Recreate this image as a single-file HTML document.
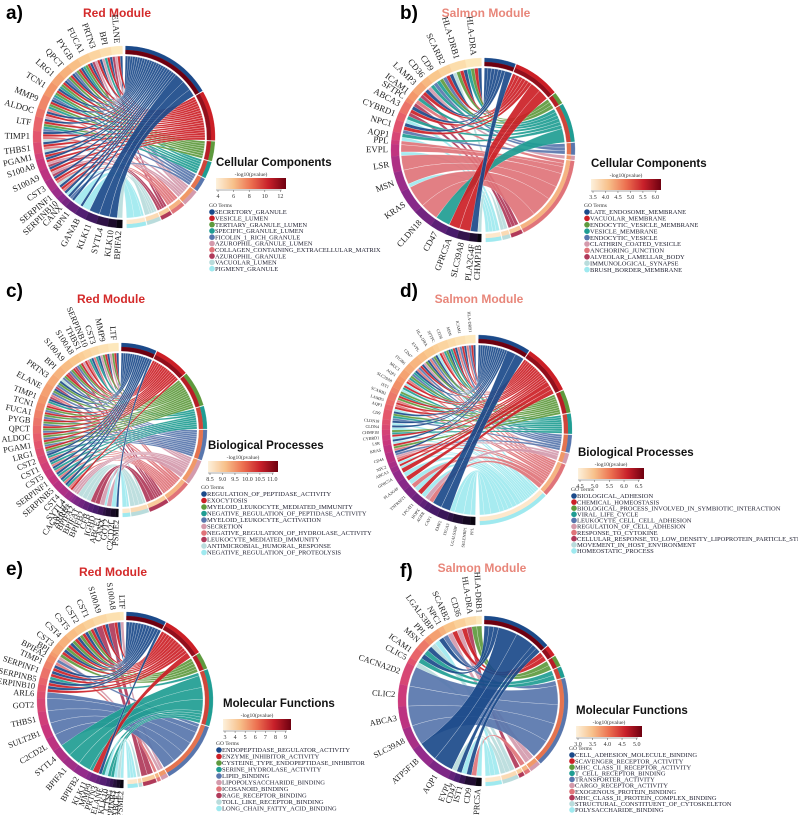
<!DOCTYPE html>
<html><head><meta charset="utf-8"><style>
html,body{margin:0;padding:0;background:#fff;}
svg{display:block;}
</style></head><body>
<svg id="fig" width="798" height="815" viewBox="0 0 798 815" xmlns="http://www.w3.org/2000/svg">
<g font-family="Liberation Sans, sans-serif" font-weight="bold">
<text x="6" y="19" font-size="19">a)</text>
<text x="400" y="19" font-size="19">b)</text>
<text x="6" y="297" font-size="19">c)</text>
<text x="400" y="297" font-size="19">d)</text>
<text x="6" y="575" font-size="19">e)</text>
<text x="400" y="577" font-size="19">f)</text>
<text x="117" y="17" font-size="12" fill="#d42a2a" text-anchor="middle">Red Module</text>
<text x="486" y="17" font-size="12" fill="#e8867a" text-anchor="middle">Salmon Module</text>
<text x="111" y="303" font-size="12" fill="#d42a2a" text-anchor="middle">Red Module</text>
<text x="479" y="303" font-size="12" fill="#e8867a" text-anchor="middle">Salmon Module</text>
<text x="113" y="576" font-size="12" fill="#d42a2a" text-anchor="middle">Red Module</text>
<text x="482" y="572" font-size="12" fill="#e8867a" text-anchor="middle">Salmon Module</text>
</g>
</svg>
<script>
const TERM_COLORS=["#1b4a8a","#cc1f26","#5e9a3e","#1f9d93","#5876ad","#d49aac","#e0747a","#b03a5a","#b9dcdc","#9fe9ef"];

const genesA=["ELANE","BPI","PRTN3","FUCA1","PYGB","QPCT","LRG1","TCN1","MMP9","ALDOC","LTF","TIMP1","THBS1","PGAM1","S100A8","S100A9","CST3","SERPINF1","SERPINB10","CANX","RPN1","GANAB","KLK11","SYTL4","KLK10","BPIFA2"];
const linksA=["0157","0135","0157","0123","0124","0124","0123","01234","01236","015","01234","0168","0168","01","0157","0157","0168","016","09","04","0999","0999","0000","0000","000","88"];
const termsA=["SECRETORY_GRANULE","VESICLE_LUMEN","TERTIARY_GRANULE_LUMEN","SPECIFIC_GRANULE_LUMEN","FICOLIN_1_RICH_GRANULE","AZUROPHIL_GRANULE_LUMEN","COLLAGEN_CONTAINING_EXTRACELLULAR_MATRIX","AZUROPHIL_GRANULE","VACUOLAR_LUMEN","PIGMENT_GRANULE"];
const ticksA=["4","6","8","10","12"];

const genesB=["HLA-DRA","HLA-DRB1","SCARB2","CD9","CD36","LAMP3","ICAM1","SFTPC","ABCA3","CYBRD1","NPC1","AQP1","PPL","EVPL","LSR","MSN","KRAS","CLDN18","CD47","GPRC5A","SLC39A8","PLA2G4F","CHMP1B"];
const linksB=["0123","0128","014","234","35","017","36","7","017","39","014","39","6","669","6666","66669","666666","66666","3333","111","111","00","8"];
const termsB=["LATE_ENDOSOME_MEMBRANE","VACUOLAR_MEMBRANE","ENDOCYTIC_VESICLE_MEMBRANE","VESICLE_MEMBRANE","ENDOCYTIC_VESICLE","CLATHRIN_COATED_VESICLE","ANCHORING_JUNCTION","ALVEOLAR_LAMELLAR_BODY","IMMUNOLOGICAL_SYNAPSE","BRUSH_BORDER_MEMBRANE"];
const ticksB=["3.5","4.0","4.5","5.0","5.5","6.0"];

const genesC=["LTF","MMP9","CST3","SERPINB10","THBS1","S100A8","S100A9","BPI","PRTN3","ELANE","TIMP1","TCN1","FUCA1","PYGB","QPCT","ALDOC","PGAM1","LRG1","CST2","CST1","CST5","SERPINF1","SERPINB5","CST4","SYTL4","CACNA1C","ARRB1","BPIFA2","BPIFA1","BPIFB2","CFB","IGHD","ABCE1","CANX","GOT2","C2CD2L","PSME2"];
const linksC=["0125","0125","036","036","15","1247","1247","1248","0247","02467","036","124","124","124","124","124","124","124","036","036","036","036","036","036","15","5","5","88","88","88","77","77","55","9","55","99","0"];
const termsC=["REGULATION_OF_PEPTIDASE_ACTIVITY","EXOCYTOSIS","MYELOID_LEUKOCYTE_MEDIATED_IMMUNITY","NEGATIVE_REGULATION_OF_PEPTIDASE_ACTIVITY","MYELOID_LEUKOCYTE_ACTIVATION","SECRETION","NEGATIVE_REGULATION_OF_HYDROLASE_ACTIVITY","LEUKOCYTE_MEDIATED_IMMUNITY","ANTIMICROBIAL_HUMORAL_RESPONSE","NEGATIVE_REGULATION_OF_PROTEOLYSIS"];
const ticksC=["8.5","9.0","9.5","10.0","10.5","11.0"];

const genesD=["HLA-DRB1","ICAM1","MSN","CD36","SFTPC","HLA-DRA","EVPL","CD47","ITGB6","MUC1","AQP1","SLC39A8","IST1","SCARB2","LAMP3","AQP3","CD9","CLDN18","CLDN4","CHMP1B","CYBRD1","LSR","KRAS","CD44","NPC2","ABCA3","GPRC5A","PLA2G4F","TNFRSF21","LPCAT1","HOPX","AGER","CAV1","EMP2","ITGA3","LGALS3BP","SELENBP1","PPL"];
const linksD=["0146","0146","013","0236","19","0246","025","0146","034","236","19","139","23","126","16","19","0234","09","09","23","19","09","126","0456","19","19","1919","1919","6969","1919","55","66","0000","0000","99","9999","999","99"];
const termsD=["BIOLOGICAL_ADHESION","CHEMICAL_HOMEOSTASIS","BIOLOGICAL_PROCESS_INVOLVED_IN_SYMBIOTIC_INTERACTION","VIRAL_LIFE_CYCLE","LEUKOCYTE_CELL_CELL_ADHESION","REGULATION_OF_CELL_ADHESION","RESPONSE_TO_CYTOKINE","CELLULAR_RESPONSE_TO_LOW_DENSITY_LIPOPROTEIN_PARTICLE_STIMULUS","MOVEMENT_IN_HOST_ENVIRONMENT","HOMEOSTATIC_PROCESS"];
const ticksD=["4.5","5.0","5.5","6.0","6.5"];

const genesE=["LTF","S100A8","S100A9","CST1","CST2","CST5","CST4","CST3","BPI","BPIFA2","TIMP1","SERPINF1","SERPINB5","SERPINB10","ARL6","GOT2","THBS1","SULT2B1","C2CD2L","SYTL4","BPIFA1","BPIFB2","KLK11","MMP9","PRTN3","ELANE","KLK10","CTSG","SERPINB3","ABCE1","PSME2"];
const linksE=["5","0177","0177","012","012","012","012","012","5","46","01","013","01","01","44","4444","4444","4444","4444","3333","3333","3333","3","11","0","39","3","3","9","8","9"];
const termsE=["ENDOPEPTIDASE_REGULATOR_ACTIVITY","ENZYME_INHIBITOR_ACTIVITY","CYSTEINE_TYPE_ENDOPEPTIDASE_INHIBITOR","SERINE_HYDROLASE_ACTIVITY","LIPID_BINDING","LIPOPOLYSACCHARIDE_BINDING","ICOSANOID_BINDING","RAGE_RECEPTOR_BINDING","TOLL_LIKE_RECEPTOR_BINDING","LONG_CHAIN_FATTY_ACID_BINDING"];
const ticksE=["3","4","5","6","7","8","9"];

const genesF=["HLA-DRB1","HLA-DRA","CD36","SCARB2","NPC1","LGALS3BP","PPL","MSN","ICAM1","CLIC5","CACNA2D2","CLIC2","ABCA3","SLC39A8","ATP5F1B","AQP1","EVPL","CD47","IST1","CD9","GPRC5A"];
const linksF=["2","27","15","15","4","09","8","03","03","8","4444","4444","4444","4444","0000","0000","8","0","9","06","9"];
const termsF=["CELL_ADHESION_MOLECULE_BINDING","SCAVENGER_RECEPTOR_ACTIVITY","MHC_CLASS_II_RECEPTOR_ACTIVITY","T_CELL_RECEPTOR_BINDING","TRANSPORTER_ACTIVITY","CARGO_RECEPTOR_ACTIVITY","EXOGENOUS_PROTEIN_BINDING","MHC_CLASS_II_PROTEIN_COMPLEX_BINDING","STRUCTURAL_CONSTITUENT_OF_CYTOSKELETON","POLYSACCHARIDE_BINDING"];
const ticksF=["3.0","3.5","4.0","4.5","5.0"];

const NS="http://www.w3.org/2000/svg";
const svg=document.getElementById('fig');
function mk(tag,attrs,parent){const e=document.createElementNS(NS,tag);for(const k in attrs)e.setAttribute(k,attrs[k]);(parent||svg).appendChild(e);return e;}
function hex(c){return [1,3,5].map(i=>parseInt(c.substr(i,2),16));}
function interp(stops,f){f=Math.max(0,Math.min(1,f));const n=stops.length-1;const i=Math.min(n-1,Math.floor(f*n));const t=f*n-i;const a=hex(stops[i]),b=hex(stops[i+1]);return 'rgb('+a.map((v,k)=>Math.round(v+(b[k]-v)*t)).join(',')+')';}
const GENE_PAL=["#fde8bc","#f9c58a","#f29468","#e5586a","#c8357e","#8e2a8c","#4a1c6e","#0a0510"];
const P_PAL=["#6e0010","#c0222a","#ee8a5a","#f9c896","#fde8cc"];

function drawPanel(id,cx,cy,r,genes,links,terms,ticks,lab,leg){
  const g=mk('g',{});
  
  
  const P=(a,R)=>{const t=a*Math.PI/180;return [cx+R*Math.sin(t),cy-R*Math.cos(t)];};
  const f2=v=>v.toFixed(2);
  function ring(a1,a2,r1,r2,fill,name){
    const p1=P(a1,r2),p2=P(a2,r2),p3=P(a2,r1),p4=P(a1,r1);const lg=(a2-a1)>180?1:0;
    const e=mk('path',{d:`M${f2(p1[0])},${f2(p1[1])}A${r2},${r2} 0 ${lg} 1 ${f2(p2[0])},${f2(p2[1])}L${f2(p3[0])},${f2(p3[1])}A${r1},${r1} 0 ${lg} 0 ${f2(p4[0])},${f2(p4[1])}Z`,fill:fill,stroke:fill,'stroke-width':0.3},g);
    
    
  }
  const tc=terms.map(()=>0);let L=0;
  links.forEach(s=>{for(const ch of s){tc[+ch]++;L++;}});
  const ggap=0.08,tgap=0.8;
  const ug=(178-ggap*genes.length)/L;
  const activeT=tc.filter(c=>c>0).length;
  const ut=(178-tgap*activeT)/L;
  const tStart=[],tCur=[];let a=1;
  terms.forEach((t,i)=>{tStart[i]=a;tCur[i]=a;a+=tc[i]*ut+(tc[i]>0?tgap:0);});
  const ri=r-10;
  const ribbons=[];
  let ga=359;
  genes.forEach((name,i)=>{
    const s=links[i];const w=s.length*ug;
    const hi=ga,lo=ga-w;ga=lo-ggap;
    ring(lo,hi,r-8,r,interp(GENE_PAL,i/(genes.length-1)),'gene-arc-'+name.toLowerCase());
    const mid=(lo+hi)/2;const p=P(mid,r+3);
    const tx=mk('text',{x:f2(p[0]),y:f2(p[1]),'font-size':lab,'font-family':'Liberation Serif, serif','text-anchor':'end','dominant-baseline':'middle',fill:'#222',transform:`rotate(${f2(mid+90)} ${f2(p[0])} ${f2(p[1])})`},g);
    tx.textContent=name;
    
    
    const sorted=[...s].map(Number).sort((x,y)=>x-y);
    const groups=[];sorted.forEach(t=>{if(groups.length&&groups[groups.length-1].t===t)groups[groups.length-1].n++;else groups.push({t:t,n:1});});
    let cur=hi;
    groups.forEach(gr=>{const w2=gr.n*ug;const g2=cur,g1=cur-w2;cur=g1;
      const t1=tCur[gr.t];const t2=t1+gr.n*ut;tCur[gr.t]=t2;
      ribbons.push({g1,g2,t1,t2,t:gr.t});});
  });
  ribbons.forEach(rb=>{
    const a1=P(rb.g1,ri),a2=P(rb.g2,ri),b1=P(rb.t1,ri),b2=P(rb.t2,ri);
    const la=(rb.g2-rb.g1)>180?1:0,lb=(rb.t2-rb.t1)>180?1:0;
    const e=mk('path',{d:`M${f2(a1[0])},${f2(a1[1])}A${ri},${ri} 0 ${la} 1 ${f2(a2[0])},${f2(a2[1])}Q${cx},${cy} ${f2(b1[0])},${f2(b1[1])}A${ri},${ri} 0 ${lb} 1 ${f2(b2[0])},${f2(b2[1])}Q${cx},${cy} ${f2(a1[0])},${f2(a1[1])}Z`,fill:TERM_COLORS[rb.t],'fill-opacity':0.92,stroke:'#fff','stroke-width':0.2},g);
    
    
  });
  terms.forEach((t,i)=>{if(!tc[i])return;const a1=tStart[i],a2=a1+tc[i]*ut;
    ring(a1,a2,r-4,r,TERM_COLORS[i],'term-arc-'+i);
    ring(a1,a2,r-8,r-4,interp(P_PAL,i/(terms.length-1)),'term-pvalue-arc-'+i);
  });
  const lg=mk('g',{},svg);
  
  
  const tt=mk('text',{x:leg.x,y:leg.ty,'font-size':11.5,'font-weight':'bold','font-family':'Liberation Sans, sans-serif',fill:'#111'},lg);
  tt.textContent=leg.title;
  
  
  const gid='grad'+id;
  const defs=mk('defs',{},lg);const lgd=mk('linearGradient',{id:gid,x1:0,x2:1,y1:0,y2:0},defs);
  ["#fdf1dc","#f7c08a","#ec7050","#c8202a","#6e0010"].forEach((c,k)=>mk('stop',{offset:k/4,'stop-color':c},lgd));
  const by=leg.ty+12;
  const cbt=mk('text',{x:leg.x+leg.w/2,y:by-2,'font-size':5.5,'text-anchor':'middle','font-family':'Liberation Serif, serif',fill:'#333'},lg);
  cbt.textContent='-log10(pvalue)';
  
  
  const cb=mk('rect',{x:leg.x,y:by,width:leg.w,height:11,fill:`url(#${gid})`},lg);
  
  
  mk('line',{x1:leg.x,x2:leg.x+leg.w*0.94,y1:by+12,y2:by+12,stroke:'#555','stroke-width':0.5},lg);
  ticks.forEach((tk,k)=>{const x=leg.x+2+(leg.w*0.92-2)*k/(ticks.length-1);
    mk('line',{x1:x,x2:x,y1:by+12,y2:by+14,stroke:'#555','stroke-width':0.5},lg);
    const te=mk('text',{x:x,y:by+20,'font-size':6,'text-anchor':'middle','font-family':'Liberation Serif, serif',fill:'#333'},lg);
    te.textContent=tk;
    
    });
  const gt=mk('text',{x:leg.x-7,y:leg.iy-5,'font-size':5.5,'font-family':'Liberation Serif, serif',fill:'#333'},lg);
  gt.textContent='GO Terms';
  
  
  terms.forEach((t,i)=>{const y=leg.iy+i*leg.sp;
    const c=mk('circle',{cx:leg.x-4,cy:y,r:2.8,fill:TERM_COLORS[i]},lg);
    
    
    const te=mk('text',{x:leg.x-1,y:y+2.2,'font-size':6.5,'font-family':'Liberation Serif, serif',fill:'#223'},lg);
    te.textContent=t;
    
    });
}
drawPanel('a',124,137,91,genesA,linksA,termsA,ticksA,8.8,{x:216,ty:166,w:70,title:'Cellular Components',iy:212,sp:6.3});
drawPanel('b',483,150,92,genesB,linksB,termsB,ticksB,8.8,{x:591,ty:167,w:70,title:'Cellular Components',iy:212,sp:6.4});
drawPanel('c',120,430,87,genesC,linksC,termsC,ticksC,8.4,{x:208,ty:449,w:70,title:'Biological Processes',iy:494,sp:6.5});
drawPanel('d',477,430,95,genesD,linksD,termsD,ticksD,4.2,{x:578,ty:456,w:66,title:'Biological Processes',iy:496,sp:6.1});
drawPanel('e',125,700,88,genesE,linksE,termsE,ticksE,8.4,{x:223,ty:707,w:68,title:'Molecular Functions',iy:750,sp:6.5});
drawPanel('f',483,701,85,genesF,linksF,termsF,ticksF,8.4,{x:576,ty:714,w:66,title:'Molecular Functions',iy:755,sp:6.1});
</script>
</body></html>
